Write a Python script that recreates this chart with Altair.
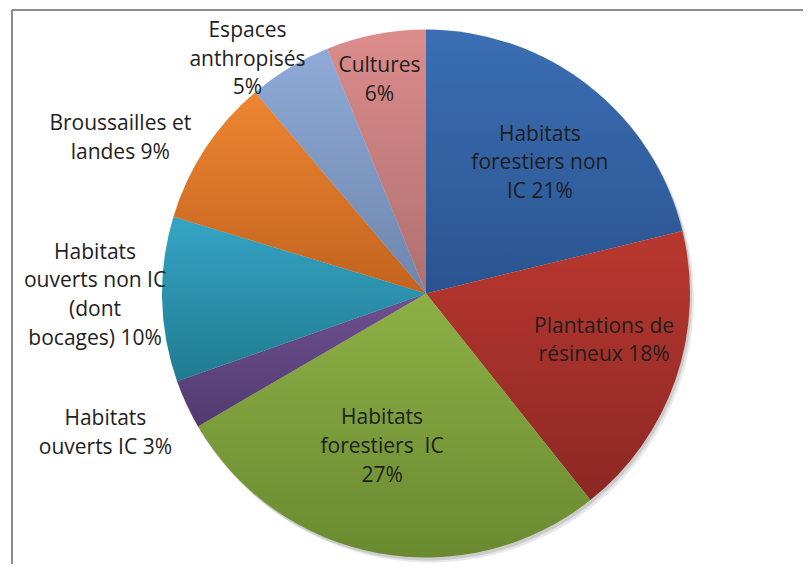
import altair as alt
import pandas as pd

# ---- data ----
categories = [
    "Habitats forestiers non IC",
    "Plantations de résineux",
    "Habitats forestiers IC",
    "Habitats ouverts IC",
    "Habitats ouverts non IC (dont bocages)",
    "Broussailles et landes",
    "Espaces anthropisés",
    "Cultures",
]
values = [21.2, 18.1, 27.3, 3.0, 10.1, 9.1, 5.1, 6.1]
labels = [
    "Habitats\nforestiers non\nIC 21%",
    "Plantations de\nrésineux 18%",
    "Habitats\nforestiers \u00a0IC\n27%",
    "Habitats\nouverts IC 3%",
    "Habitats\nouverts non IC\n(dont\nbocages) 10%",
    "Broussailles et\nlandes 9%",
    "Espaces\nanthropisés\n5%",
    "Cultures\n6%",
]

# ---- styles ----
colors_top = ["#3B6EB4", "#B9382F", "#8DB045", "#6E5092", "#35A5C4", "#EE8632", "#8FAAD8", "#DC8C8B"]
colors_bottom = ["#2A5490", "#8C2724", "#6A8A30", "#523A6E", "#217A92", "#C2631E", "#6E86AC", "#AF7070"]
# label placement: (radius, dx, dy) for the centre of each label block
label_pos = [
    (173, 7, 6),
    (184, 4, -12),
    (157, -15, -1),
    (350, -3, -7),
    (331, 0, -5),
    (343, -19, 33),
    (293, -27, 17),
    (218, -5, 1),
]
LH = 28.7

W, H = 795, 556
CX, CY = 418, 285.5
R = 264

df = pd.DataFrame({
    "cat": categories,
    "value": values,
    "label": labels,
    "order": list(range(len(categories))),
})

theta_scale = alt.Scale(domain=[0, sum(values)])

base = (
    alt.Chart(df)
    .transform_window(cum="sum(value)", sort=[alt.SortField("order")], frame=[None, 0])
    .transform_calculate(start="datum.cum - datum.value", mid="datum.cum - datum.value / 2")
)

layers = []

# soft shadow
for off, col, op in [((4, 5), "#d8d8d8", 0.6), ((2, 3), "#b0b0b0", 0.5)]:
    layers.append(
        base.mark_arc(outerRadius=R, color=col, opacity=op).encode(
            theta=alt.Theta("start:Q", scale=theta_scale),
            theta2="cum:Q",
            x=alt.value(CX + off[0]),
            y=alt.value(CY + off[1]),
        )
    )

# slices with vertical gradients
for cat, c1, c2 in zip(categories, colors_top, colors_bottom):
    grad = {
        "gradient": "linear",
        "x1": 0, "y1": 0, "x2": 0, "y2": 1,
        "stops": [{"offset": 0, "color": c1}, {"offset": 1, "color": c2}],
    }
    layers.append(
        base.transform_filter(alt.datum.cat == cat)
        .mark_arc(outerRadius=R, fill=grad)
        .encode(
            theta=alt.Theta("start:Q", scale=theta_scale),
            theta2="cum:Q",
            x=alt.value(CX),
            y=alt.value(CY),
        )
    )

# chart frame
frame_df = pd.DataFrame({"a": [0]})
layers.append(
    alt.Chart(frame_df).mark_rule(color="#8c8c8c", strokeWidth=2).encode(
        x=alt.value(4), x2=alt.value(W), y=alt.value(2)
    )
)
layers.append(
    alt.Chart(frame_df).mark_rule(color="#8c8c8c", strokeWidth=2).encode(
        x=alt.value(4), y=alt.value(2), y2=alt.value(H)
    )
)

# labels
for cat, lab, (r, dx, dy) in zip(categories, labels, label_pos):
    n_lines = lab.count("\n") + 1
    layers.append(
        base.transform_filter(alt.datum.cat == cat)
        .mark_text(
            radius=r, dx=dx, dy=dy - (n_lines - 1) / 2 * LH,
            font="Open Sans", fontSize=21, lineBreak="\n", lineHeight=LH,
            align="center", baseline="middle", color="#1e1e1e",
        )
        .encode(
            theta=alt.Theta("mid:Q", scale=theta_scale, stack=None),
            text="label:N",
            x=alt.value(CX),
            y=alt.value(CY),
        )
    )

chart = (
    alt.layer(*layers)
    .properties(
        width=W, height=H, padding=0,
        autosize=alt.AutoSizeParams(type="fit", contains="padding"),
        background="white",
    )
    .configure_view(strokeWidth=0)
)

chart.save("out.html", embed_options={"renderer": "svg", "actions": False})
